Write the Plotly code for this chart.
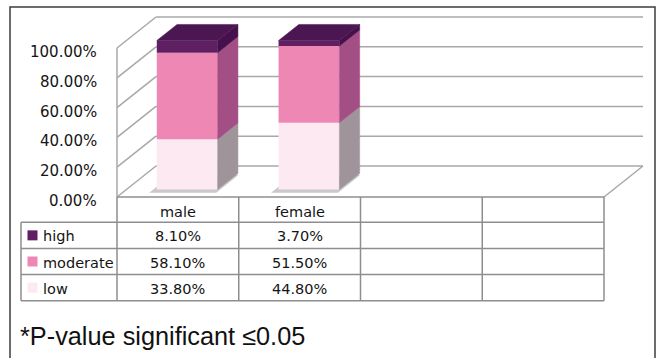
import plotly.graph_objects as go

# ---------------- data ----------------
categories = ["male", "female", "", ""]
series_names = ["high", "moderate", "low"]
high = [8.1, 3.7]
moderate = [58.1, 51.5]
low = [33.8, 44.8]
y_ticks = [0, 20, 40, 60, 80, 100]
y_tick_labels = ["0.00%", "20.00%", "40.00%", "60.00%", "80.00%", "100.00%"]
footnote = "*P-value significant \u22640.05"

# ---------------- styles / layout constants ----------------
W, H = 657, 358
PX_X0, PX_SLOT = 117.0, 121.75      # pixel of slot 0, pixels per category slot
PX_Y0, PX_UNIT = 197.0, 1.49        # pixel of 0 %, pixels per percent


def xd(px):
    return (px - PX_X0) / PX_SLOT


def yd(py):
    return (PX_Y0 - py) / PX_UNIT


DX = 39.0 / PX_SLOT                 # floor depth vector (data units)
DY = 31.0 / PX_UNIT
F0, F1 = 0.24, 0.76                 # bar depth (front/back) as fraction of floor depth
BAR_W = 0.5

front_col = {"high": "#601f63", "moderate": "#ee87b4", "low": "#fce9f2"}
side_col = {"high": "#45104b", "moderate": "#a34f85", "low": "#a0949b"}
top_col = "#4c1652"
grid_col = "#a8a8a8"
table_col = "#8e8e8e"
txt_col = "#141414"
FONT = "DejaVu Sans"

fig = go.Figure()
shapes = []
annots = []

ncat = len(categories)
nbar = len(high)

# ---------------- walls / gridlines ----------------
for v in y_ticks:
    shapes.append(dict(type="line", xref="x", yref="y", x0=DX, y0=v + DY, x1=ncat + DX, y1=v + DY,
                       line=dict(color=grid_col, width=1.5), layer="below"))
    shapes.append(dict(type="line", xref="x", yref="y", x0=0, y0=v, x1=DX, y1=v + DY,
                       line=dict(color=grid_col, width=1.5), layer="below"))
shapes.append(dict(type="line", xref="x", yref="y", x0=0, y0=y_ticks[0], x1=0, y1=y_ticks[-1],
                   line=dict(color=grid_col, width=1.5), layer="below"))
shapes.append(dict(type="line", xref="x", yref="y", x0=ncat, y0=0, x1=ncat + DX, y1=DY,
                   line=dict(color=grid_col, width=1.5), layer="below"))

# ---------------- shadows on floor ----------------
def proj(x, f, y=0.0):
    return x + f * DX, y + f * DY


for i in range(nbar):
    xl = i + 0.5 - BAR_W / 2 - 0.03
    xr = i + 0.5 + BAR_W / 2 + 0.02
    fa, fb = F0 - 0.10, F1 - 0.05
    pts = [proj(xl, fa), proj(xr, fa), proj(xr, fb), proj(xl, fb)]
    path = "M " + " L ".join(f"{px},{py}" for px, py in pts) + " Z"
    shapes.append(dict(type="path", xref="x", yref="y", path=path,
                       fillcolor="rgba(120,120,120,0.4)", line=dict(width=0), layer="below"))

# ---------------- 3D stacked bars ----------------
stack = [("low", low), ("moderate", moderate), ("high", high)]
base = [0.0] * nbar
ddx, ddy = (F1 - F0) * DX, (F1 - F0) * DY
for name, vals in stack:
    fig.add_trace(go.Bar(
        x=[i + 0.5 + F0 * DX for i in range(nbar)],
        y=vals,
        base=[b + F0 * DY for b in base],
        width=BAR_W,
        marker=dict(color=front_col[name], line=dict(width=0)),
        name=name, hoverinfo="skip",
    ))
    for i in range(nbar):
        xr = i + 0.5 + BAR_W / 2 + F0 * DX
        yb = base[i] + F0 * DY
        yt = base[i] + vals[i] + F0 * DY
        fig.add_trace(go.Scatter(
            x=[xr, xr + ddx, xr + ddx, xr, xr],
            y=[yb, yb + ddy, yt + ddy, yt, yb],
            fill="toself", fillcolor=side_col[name], mode="lines",
            line=dict(width=0.5, color=side_col[name]), hoverinfo="skip",
        ))
    base = [b + v for b, v in zip(base, vals)]

# top faces
for i in range(nbar):
    xl = i + 0.5 - BAR_W / 2 + F0 * DX
    xr = i + 0.5 + BAR_W / 2 + F0 * DX
    yt = base[i] + F0 * DY
    fig.add_trace(go.Scatter(
        x=[xl, xr, xr + ddx, xl + ddx, xl],
        y=[yt, yt, yt + ddy, yt + ddy, yt],
        fill="toself", fillcolor=top_col, mode="lines",
        line=dict(width=0.5, color=top_col), hoverinfo="skip",
    ))

# ---------------- y tick labels ----------------
for v, lab in zip(y_ticks, y_tick_labels):
    annots.append(dict(x=xd(99), y=v, xref="x", yref="y", text=lab, showarrow=False,
                       xanchor="right", yanchor="middle", yshift=-4,
                       font=dict(family=FONT, size=15, color=txt_col)))

# ---------------- data table ----------------
row_px = [197.0, 222.3, 248.4, 274.6, 300.7]
rows = [yd(p) for p in row_px]
x_leg = xd(21)
tl = dict(color=table_col, width=1.5)
# header row
shapes.append(dict(type="line", xref="x", yref="y", x0=0, y0=rows[0], x1=ncat, y1=rows[0], line=tl))
for k in range(ncat + 1):
    shapes.append(dict(type="line", xref="x", yref="y", x0=k, y0=rows[0], x1=k, y1=rows[-1], line=tl))
for r in rows[1:]:
    shapes.append(dict(type="line", xref="x", yref="y", x0=x_leg, y0=r, x1=ncat, y1=r, line=tl))
shapes.append(dict(type="line", xref="x", yref="y", x0=x_leg, y0=rows[1], x1=x_leg, y1=rows[-1], line=tl))

for k, c in enumerate(categories):
    if c:
        annots.append(dict(x=k + 0.5, y=(rows[0] + rows[1]) / 2, xref="x", yref="y", text=c,
                           showarrow=False, yshift=-2,
                           font=dict(family=FONT, size=14.5, color=txt_col)))

series_vals = {"high": high, "moderate": moderate, "low": low}
for r, name in enumerate(series_names):
    yc = (rows[r + 1] + rows[r + 2]) / 2
    sq = 5.0 / PX_UNIT
    shapes.append(dict(type="rect", xref="x", yref="y", x0=xd(27.5), x1=xd(37.5),
                       y0=yc - sq, y1=yc + sq, fillcolor=front_col[name], line=dict(width=0)))
    annots.append(dict(x=xd(41), y=yc, xref="x", yref="y", text=name, showarrow=False,
                       xanchor="left", yshift=-1,
                       font=dict(family=FONT, size=14.5, color=txt_col)))
    for i, v in enumerate(series_vals[name]):
        annots.append(dict(x=i + 0.5, y=yc, xref="x", yref="y", text=f"{v:.2f}%",
                           showarrow=False, yshift=-1,
                           font=dict(family=FONT, size=14.5, color=txt_col)))

# ---------------- footnote ----------------
annots.append(dict(x=18 / W, y=1 - 336 / H, xref="paper", yref="paper", text=footnote,
                   showarrow=False, xanchor="left", yanchor="middle",
                   font=dict(family="Liberation Sans", size=25.3, color="#111111")))

# ---------------- outer frame ----------------
shapes.append(dict(type="path", xref="paper", yref="paper",
                   path=f"M {10 / W},-0.1 L {10 / W},{1 - 7 / H} L {655 / W},{1 - 7 / H} L {655 / W},-0.1",
                   line=dict(color="#3c3c3c", width=1.5)))

fig.update_layout(
    width=W, height=H, margin=dict(l=0, r=0, t=0, b=0),
    paper_bgcolor="white", plot_bgcolor="white",
    barmode="overlay", showlegend=False,
    xaxis=dict(range=[xd(0), xd(W)], visible=False, fixedrange=True),
    yaxis=dict(range=[yd(H), yd(0)], visible=False, fixedrange=True),
    shapes=shapes, annotations=annots,
)

fig.write_html("out.html")
